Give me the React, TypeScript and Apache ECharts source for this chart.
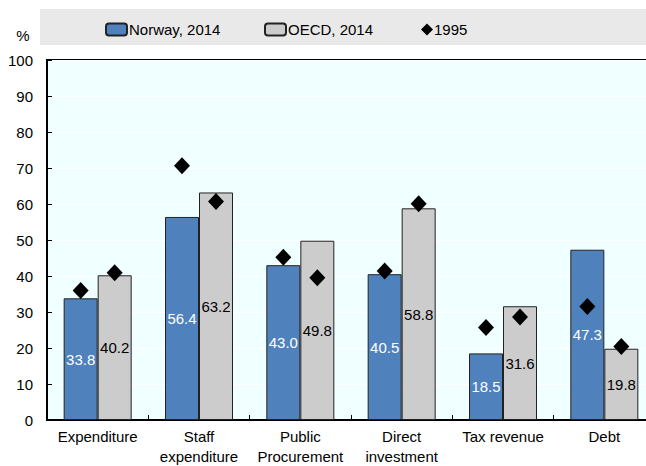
import React, { useEffect, useRef } from "react";
import * as echarts from "echarts";

const categories = [
  "Expenditure",
  "Staff\nexpenditure",
  "Public\nProcurement",
  "Direct\ninvestment",
  "Tax revenue",
  "Debt",
];
const norway2014 = [33.8, 56.4, 43.0, 40.5, 18.5, 47.3];
const oecd2014 = [40.2, 63.2, 49.8, 58.8, 31.6, 19.8];
const norway1995 = [36.0, 70.6, 45.2, 41.4, 25.7, 31.5];
const oecd1995 = [40.9, 60.7, 39.5, 60.1, 28.6, 20.4];
const yTicks = [0, 10, 20, 30, 40, 50, 60, 70, 80, 90, 100];

const FONT = "'Liberation Sans Narrow', 'Liberation Sans', Arial, sans-serif";
const FS = 15;
const BLUE = "#4F81BD";
const GREY = "#CCCCCC";

export default function App() {
  const ref = useRef<HTMLDivElement>(null);
  useEffect(() => {
    if (!ref.current) return;
    const chart = echarts.init(ref.current, undefined, { renderer: "svg" });
    const barW = 34;
    chart.setOption({
      animation: false,
      textStyle: { fontFamily: FONT },
      graphic: [
        {
          type: "rect",
          z: -10,
          shape: { x: 40, y: 9, width: 606, height: 36 },
          style: { fill: "#E9E9E9" },
          silent: true,
        },
        {
          type: "text",
          x: 23,
          y: 35,
          style: {
            text: "%",
            fontFamily: FONT,
            fontSize: FS,
            fill: "#000",
            align: "center",
            verticalAlign: "middle",
          },
        },
      ],
      legend: [
        {
          left: 100,
          top: 17,
          itemWidth: 21,
          itemHeight: 12,
          data: ["Norway, 2014"],
          textStyle: { fontFamily: FONT, fontSize: FS, color: "#000", padding: [0, 0, 0, -3] },
        },
        {
          left: 259,
          top: 17,
          itemWidth: 21,
          itemHeight: 12,
          data: ["OECD, 2014"],
          textStyle: { fontFamily: FONT, fontSize: FS, color: "#000", padding: [0, 0, 0, -3] },
        },
        {
          left: 416,
          top: 17,
          itemWidth: 12,
          itemHeight: 12,
          data: ["1995"],
          textStyle: { fontFamily: FONT, fontSize: FS, color: "#000", padding: [0, 0, 0, -4] },
        },
      ],
      grid: {
        left: 47,
        right: 10,
        top: 60,
        bottom: 45,
        show: true,
        backgroundColor: "#F0FFFF",
        borderColor: "#000",
        borderWidth: 2,
      },
      xAxis: {
        type: "category",
        data: categories,
        axisLine: { lineStyle: { color: "#000", width: 2 } },
        axisTick: { show: true, inside: true, length: 5, lineStyle: { color: "#000" } },
        axisLabel: {
          color: "#000",
          fontFamily: FONT,
          fontSize: FS,
          lineHeight: 20,
          margin: 6,
          interval: 0,
        },
      },
      yAxis: {
        type: "value",
        min: 0,
        max: 100,
        interval: 10,
        axisLine: { show: true, lineStyle: { color: "#000", width: 2 } },
        axisTick: { show: true, inside: true, length: 5, lineStyle: { color: "#000" } },
        axisLabel: {
          color: "#000",
          fontFamily: FONT,
          fontSize: FS,
          margin: 14,
          formatter: (v: number) => (yTicks.includes(v) ? String(v) : ""),
        },
        splitLine: { show: true, lineStyle: { color: "#FFFFFF", width: 1 } },
      },
      series: [
        {
          name: "Norway, 2014",
          type: "bar",
          data: norway2014,
          barWidth: barW,
          barGap: "0%",
          itemStyle: { color: BLUE, borderColor: "#222", borderWidth: 1 },
          label: {
            show: true,
            position: "inside",
            color: "#FFFFFF",
            fontFamily: FONT,
            fontSize: FS,
            formatter: (p: any) => Number(p.value).toFixed(1),
          },
        },
        {
          name: "OECD, 2014",
          type: "bar",
          data: oecd2014,
          barWidth: barW,
          barGap: "0%",
          itemStyle: { color: GREY, borderColor: "#222", borderWidth: 1 },
          label: {
            show: true,
            position: "inside",
            color: "#000",
            fontFamily: FONT,
            fontSize: FS,
            formatter: (p: any) => Number(p.value).toFixed(1),
          },
        },
        {
          name: "1995",
          type: "scatter",
          data: norway1995,
          symbol: "diamond",
          symbolSize: [16, 17],
          symbolOffset: [-barW / 2, 0],
          itemStyle: { color: "#000", opacity: 1 },
          z: 5,
        },
        {
          name: "1995",
          type: "scatter",
          data: oecd1995,
          symbol: "diamond",
          symbolSize: [16, 17],
          symbolOffset: [barW / 2, 0],
          itemStyle: { color: "#000", opacity: 1 },
          z: 5,
        },
      ],
    });
    return () => chart.dispose();
  }, []);
  return (
    <div
      style={{
        position: "fixed",
        left: 0,
        top: 0,
        width: 646,
        height: 466,
        overflow: "hidden",
        background: "#fff",
      }}
    >
      <div ref={ref} style={{ width: 665, height: 466 }} />
    </div>
  );
}
